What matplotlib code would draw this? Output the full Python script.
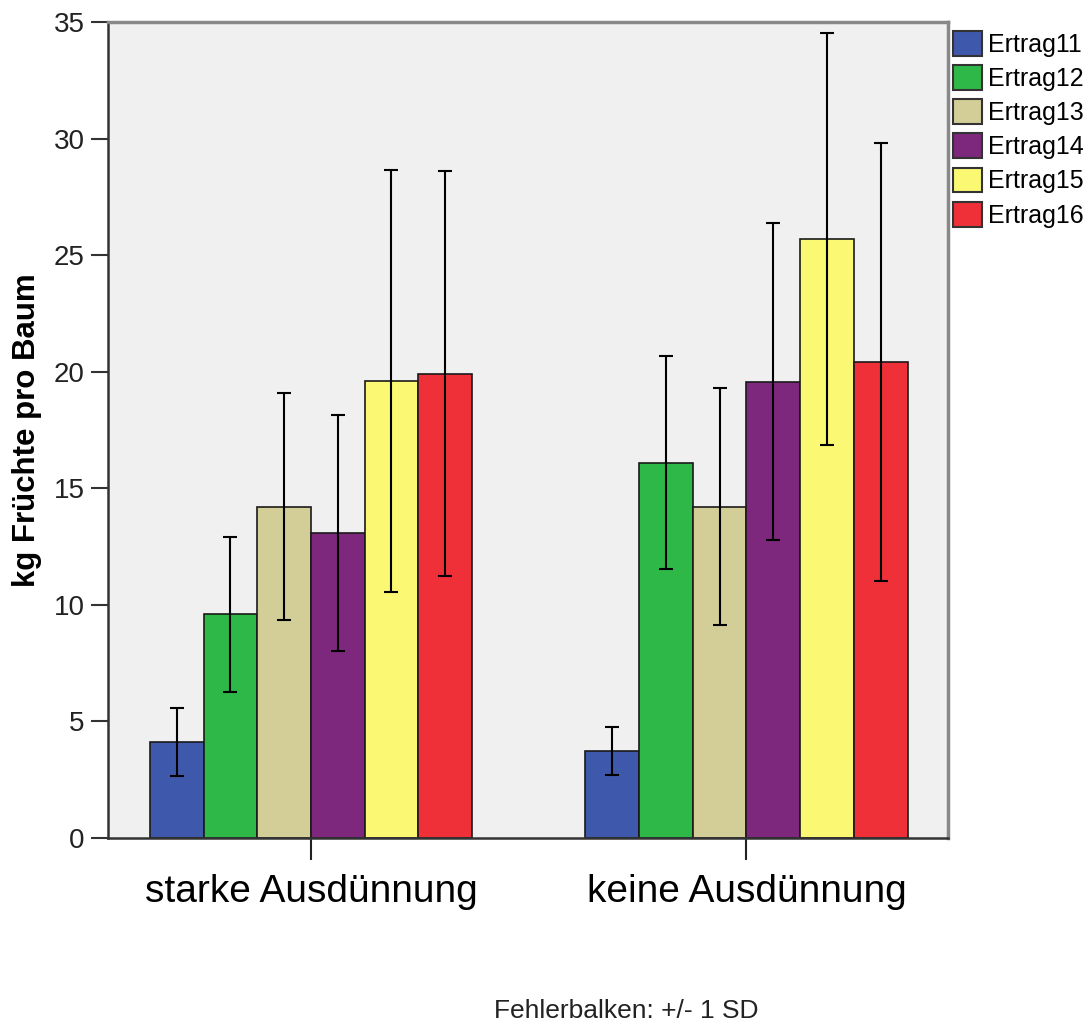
import matplotlib.pyplot as plt
import numpy as np

plt.rcParams['font.family'] = ['Liberation Sans', 'DejaVu Sans']

groups = ['starke Ausdünnung', 'keine Ausdünnung']
series = ['Ertrag11', 'Ertrag12', 'Ertrag13', 'Ertrag14', 'Ertrag15', 'Ertrag16']
colors = ['#3e58ac', '#2eb848', '#d3ce97', '#7d287d', '#fbf873', '#ef3038']

# mean values per series, [starke, keine]
means = [
    [4.13, 3.73],
    [9.60, 16.10],
    [14.21, 14.21],
    [13.07, 19.58],
    [19.61, 25.70],
    [19.91, 20.43],
]
# standard deviations per series
sds = [
    [1.46, 1.03],
    [3.32, 4.57],
    [4.87, 5.09],
    [5.06, 6.80],
    [9.06, 8.83],
    [8.68, 9.39],
]

fig = plt.figure(figsize=(10.91, 10.23), dpi=100)
ax = fig.add_axes([0.099, 0.1808, 0.77, 0.7977])
ax.set_facecolor('#f0f0f0')

x = np.arange(len(groups))
w = 0.1233
for i, name in enumerate(series):
    pos = x + (i - 2.5) * w
    ax.bar(pos, means[i], w, color=colors[i], edgecolor='#1a1a1a', linewidth=1.2,
           label=name, zorder=2)
    ax.errorbar(pos, means[i], yerr=sds[i], fmt='none', ecolor='black',
                elinewidth=1.5, capsize=5, capthick=1.5, zorder=3)

ax.set_xlim(-0.466, 1.463)
ax.set_ylim(0, 35)
ax.set_yticks([0, 5, 10, 15, 20, 25, 30, 35])
ax.tick_params(axis='y', length=12, width=1.5, color='#333333', labelsize=20,
               labelcolor='#222222', pad=5)
ax.set_xticks(x)
ax.set_xticklabels(groups, fontsize=28)
ax.tick_params(axis='x', length=16, width=1.5, color='#222222', pad=10)

for s in ['left', 'bottom']:
    ax.spines[s].set_color('#333333')
    ax.spines[s].set_linewidth(1.8)
for s in ['top', 'right']:
    ax.spines[s].set_color('#888888')
    ax.spines[s].set_linewidth(2.5)

ax.set_ylabel('kg Früchte pro Baum', fontsize=22.5, fontweight='bold', labelpad=8)

leg = ax.legend(loc='upper left', bbox_to_anchor=(1.0, 0.995), frameon=False,
                fontsize=18, handlelength=1.15, handleheight=1.15, handletextpad=0.25,
                labelspacing=0.33, borderaxespad=0.0, borderpad=0.2)
for h in leg.legend_handles:
    h.set_edgecolor('#333333')
    h.set_linewidth(1.5)

fig.text(0.574, 0.0, 'Fehlerbalken: +/- 1 SD', fontsize=19, ha='center',
         va='bottom', color='#222222')

fig.savefig('out.png', dpi=100)
